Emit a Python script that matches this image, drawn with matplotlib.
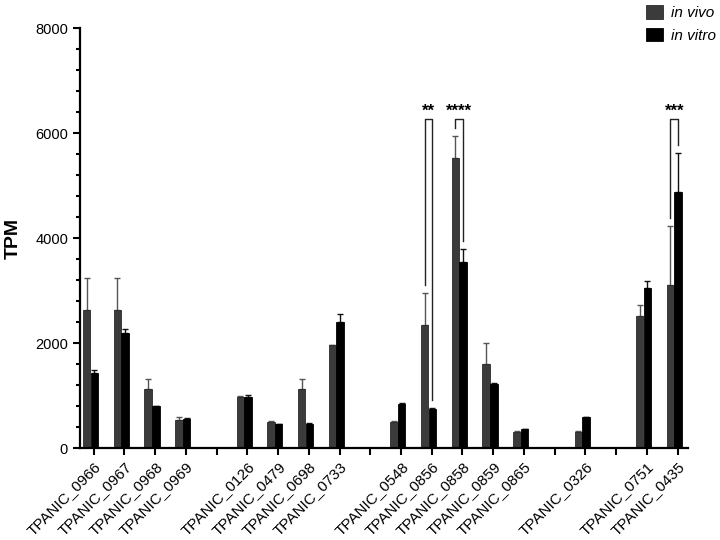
import numpy as np
import matplotlib.pyplot as plt
from matplotlib.ticker import MultipleLocator

plt.rcParams['font.family'] = ['Liberation Sans', 'DejaVu Sans']

# genes, kept in the groups shown on the x axis
groups = [
    ['TPANIC_0966', 'TPANIC_0967', 'TPANIC_0968', 'TPANIC_0969'],
    ['TPANIC_0126', 'TPANIC_0479', 'TPANIC_0698', 'TPANIC_0733'],
    ['TPANIC_0548', 'TPANIC_0856', 'TPANIC_0858', 'TPANIC_0859', 'TPANIC_0865'],
    ['TPANIC_0326'],
    ['TPANIC_0751', 'TPANIC_0435'],
]

# TPM means and upper error (SD)
vivo = [2630, 2630, 1120, 540, 980, 490, 1120, 1960, 505, 2340, 5530, 1600, 315, 305, 2520, 3110]
vivo_err = [605, 605, 190, 50, 20, 35, 190, 10, 15, 620, 420, 400, 15, 15, 210, 1120]
vitro = [1440, 2200, 800, 560, 980, 460, 470, 2410, 840, 750, 3540, 1220, 360, 590, 3045, 4885]
vitro_err = [50, 70, 10, 10, 30, 10, 10, 145, 30, 10, 260, 20, 10, 10, 145, 735]

# significance marks: gene, stars
sig_genes = ['TPANIC_0856', 'TPANIC_0858', 'TPANIC_0435']
sig_labels = ['**', '****', '***']

# one slot per gene plus an empty slot between groups
genes, pos = [], []
slot = 0
for g in groups:
    for name in g:
        genes.append(name)
        pos.append(slot)
        slot += 1
    slot += 1
last_slot = pos[-1]
pos = np.array(pos, dtype=float)

fig = plt.figure(figsize=(7.2, 5.4), dpi=100)
ax = fig.add_axes([0.111, 0.170, 0.845, 0.778])

w = 0.24
x_vivo = pos - 0.23
x_vitro = pos + 0.02
zeros = np.zeros(len(vivo))
ax.bar(x_vivo, vivo, width=w, color='#3b3b3b', edgecolor='#2a2a2a', linewidth=0.6,
       label='in vivo', zorder=2)
ax.bar(x_vitro, vitro, width=w, color='#000000', edgecolor='#000000', linewidth=0.6,
       label='in vitro', zorder=2)
ax.errorbar(x_vivo, vivo, yerr=[zeros, vivo_err], fmt='none', ecolor='#555555',
            elinewidth=1, capsize=2.5, capthick=1, zorder=1)
ax.errorbar(x_vitro, vitro, yerr=[zeros, vitro_err], fmt='none', ecolor='#111111',
            elinewidth=1, capsize=2.5, capthick=1, zorder=1)

# brackets
top = 6270
for name, lab in zip(sig_genes, sig_labels):
    i = genes.index(name)
    y1 = vivo[i] + vivo_err[i] + 150
    y2 = vitro[i] + vitro_err[i] + 150
    ax.plot([x_vivo[i], x_vivo[i], x_vitro[i], x_vitro[i]], [y1, top, top, y2],
            color='#222222', lw=1, zorder=3)
    ax.text((x_vivo[i] + x_vitro[i]) / 2, top + 10, lab, ha='center', va='bottom',
            fontsize=12, fontweight='bold')

ax.set_ylim(0, 8000)
ax.set_xlim(-0.45, last_slot + 0.35)
ax.yaxis.set_major_locator(MultipleLocator(2000))
ax.yaxis.set_minor_locator(MultipleLocator(400))
ax.set_ylabel('TPM', fontsize=14, fontweight='bold', labelpad=10)

all_ticks = np.arange(0, last_slot + 1)
labels = [''] * len(all_ticks)
for name, p in zip(genes, pos):
    labels[int(p)] = name
ax.set_xticks(all_ticks)
ax.set_xticklabels(labels, rotation=45, ha='right', rotation_mode='anchor', fontsize=11)

for s in ['top', 'right']:
    ax.spines[s].set_visible(False)
for s in ['left', 'bottom']:
    ax.spines[s].set_linewidth(1.6)
ax.tick_params(axis='both', which='major', length=5, width=1.5, labelsize=10.5)
ax.tick_params(axis='x', labelsize=11, pad=3)
ax.tick_params(axis='y', which='minor', length=3, width=1.5)

ax.legend(loc='upper right', bbox_to_anchor=(1.068, 1.088), frameon=False,
          prop={'style': 'italic', 'size': 11}, handlelength=1.1, handleheight=1.0,
          handletextpad=0.5, labelspacing=0.5)

fig.savefig('out.png', dpi=100)
